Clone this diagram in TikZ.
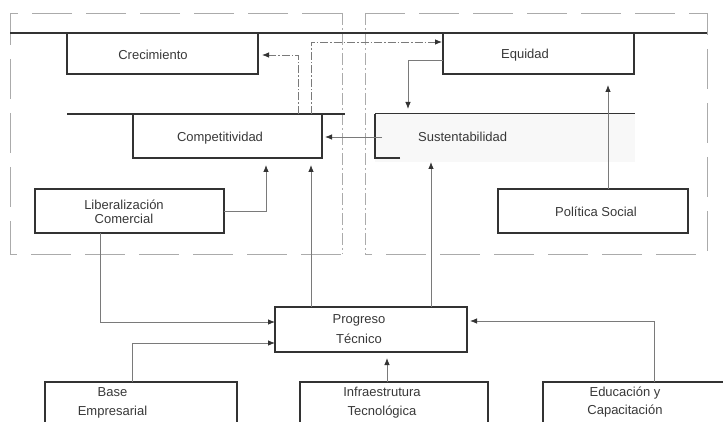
\documentclass[tikz,border=0pt]{standalone}
\usepackage{fontspec}
\setmainfont{Liberation Sans}
\usetikzlibrary{arrows.meta,calc}
\definecolor{boxc}{HTML}{333333}
\definecolor{linec}{HTML}{7A7A7A}
\definecolor{framec}{HTML}{ABABAB}
\definecolor{susfill}{HTML}{F8F8F8}
\definecolor{txtc}{HTML}{383838}
\tikzset{
  boxn/.style={draw=boxc, line width=2pt, inner sep=0pt, outer sep=0pt},
  openbox/.style={inner sep=0pt, outer sep=0pt},
  heavy/.style={draw=boxc, line width=2pt},
  conn/.style={draw=linec, line width=0.8pt, -{Latex[length=7pt,width=5.5pt,color=boxc]}},
  dashconn/.style={conn, dash pattern=on 8pt off 2pt on 1.5pt off 2pt},
  frame/.style={draw=framec, line width=0.7pt, dash pattern=on 40pt off 14pt},
  divider/.style={draw=framec, line width=0.7pt, dash pattern=on 12pt off 3pt on 2pt off 3pt},
  lbl/.style={text=txtc, font=\fontsize{13}{15}\selectfont, inner sep=0pt, align=center},
}
\begin{document}
\begin{tikzpicture}[x=1pt,y=-1pt]
\useasboundingbox (0,0) rectangle (723,422);
% frames
\draw[frame] (342,13) -- (10,13) -- (10,254) -- (342,254);
\draw[frame] (365,13) -- (707,13) -- (707,254) -- (365,254);
\draw[divider] (342,13) -- (342,254);
\draw[divider] (365,13) -- (365,254);
% thick rules
\draw[heavy] (10,33) -- (707,33);
\draw[heavy] (67,114) -- (345,114);
\draw[heavy] (375,114) -- (635,114);
% boxes
\node[boxn, minimum width=191pt, minimum height=41pt] (cre) at (162.5,53.5) {};
\node[boxn, minimum width=191pt, minimum height=41pt] (equ) at (538.5,53.5) {};
\node[boxn, minimum width=189pt, minimum height=44pt] (com) at (227.5,136) {};
\node[openbox, fill=susfill, minimum width=260pt, minimum height=48pt] (sus) at (505,138) {};
\draw[heavy] ([xshift=25pt,yshift=4pt]sus.south west) -- ([yshift=4pt]sus.south west) -- (sus.north west);
\node[boxn, minimum width=189pt, minimum height=44pt] (lib) at (129.5,211) {};
\node[boxn, minimum width=190pt, minimum height=44pt] (pol) at (593,211) {};
\node[boxn, minimum width=192pt, minimum height=45pt] (pro) at (371,329.5) {};
\node[openbox, minimum width=192pt, minimum height=48pt] (bas) at (141,406) {};
\node[openbox, minimum width=188pt, minimum height=48pt] (inf) at (394,406) {};
\node[openbox, minimum width=197pt, minimum height=48pt] (edu) at (641.5,406) {};
\foreach \b in {bas,inf,edu}
  \draw[heavy] (\b.south west) -- (\b.north west) -- (\b.north east) -- (\b.south east);
% texts
\node[lbl] (cre-t) at (153,55) {Crecimiento};
\node[lbl] (equ-t) at (525,55) {Equidad};
\node[lbl] (com-t) at (220,138) {Competitividad};
\node[lbl, anchor=west] (sus-t) at (418,137) {Sustentabilidad};
\node[lbl] (lib-t) at (124,212) {Liberalización\\[-1pt]Comercial};
\node[lbl] (pol-t) at (596,212) {Política Social};
\node[lbl] (pro-t) at (359,329) {Progreso\\[5pt]Técnico};
\node[lbl] (bas-t) at (112.5,402.5) {Base\\[4pt]Empresarial};
\node[lbl] (inf-t) at (382,402.5) {Infraestrutura\\[4pt]Tecnológica};
\node[lbl] (edu-t) at (625,402) {Educación y\\[3pt]Capacitación};
% connectors
\draw[dashconn, shorten >=4pt] ([xshift=165pt]com.north west) |- ([yshift=-22pt]cre.north east);
\draw[dashconn, shorten >=1pt] ([xshift=178pt]com.north west) |- ([yshift=-9pt]equ.north west);
\draw[conn, shorten >=5pt] ([yshift=-27pt]equ.north west) -| ([xshift=33pt]sus.north west);
\draw[conn, shorten >=3pt, shorten <=-7pt] ([yshift=-23pt]sus.north west) -- ([yshift=-23pt]com.north east);
\draw[conn, shorten >=7pt] (lib.east) -| ([xshift=133pt]com.south west);
\draw[conn, shorten >=7pt] ([xshift=36pt]pro.north west) -- ([xshift=178pt]com.south west);
\draw[conn, shorten >=0pt] ([xshift=156pt]pro.north west) -- ([xshift=56pt]sus.south west);
\draw[conn, shorten >=11pt] ([xshift=110pt]pol.north west) -- ([xshift=165pt]equ.south west);
\draw[conn] ([xshift=65pt]lib.south west) |- ([yshift=-15pt]pro.north west);
\draw[conn] ([xshift=87pt]bas.north west) |- ([yshift=-36pt]pro.north west);
\draw[conn, shorten >=6pt] ([xshift=87pt]inf.north west) -- ([xshift=112pt]pro.south west);
\draw[conn, shorten >=3pt] ([xshift=111pt]edu.north west) |- ([yshift=-14pt]pro.north east);
\end{tikzpicture}
\end{document}
